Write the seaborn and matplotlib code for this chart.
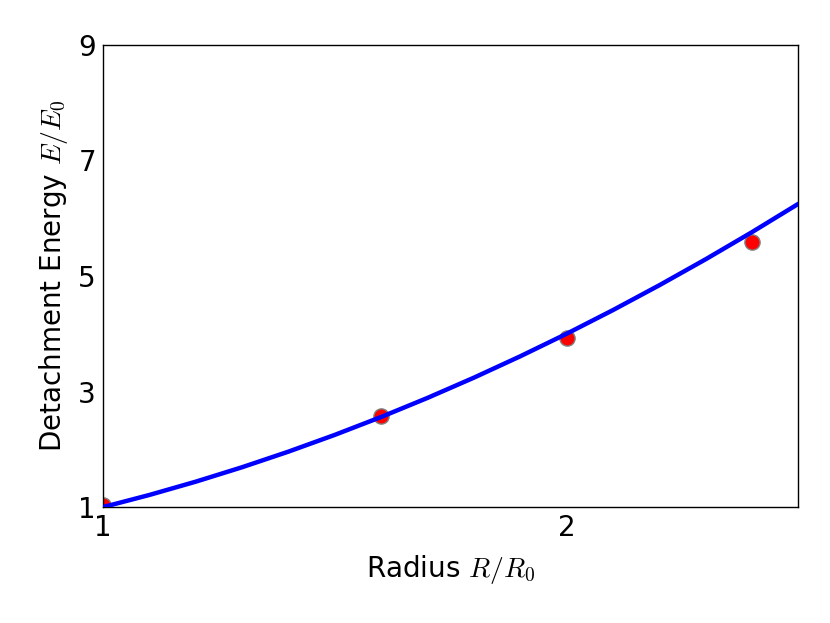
import numpy as np
import pandas as pd
import seaborn as sns
import matplotlib.pyplot as plt

# measured points (radius, energy)
r_pts = [1.0, 1.6, 2.0, 2.4]
e_pts = [1.03, 2.58, 3.92, 5.59]

# fitted curve
r_fit = [1.0, 1.1, 1.2, 1.3, 1.4, 1.5, 1.6, 1.7, 1.8, 1.9, 2.0,
         2.1, 2.2, 2.3, 2.4, 2.5]
e_fit = [1.0, 1.21, 1.44, 1.69, 1.96, 2.25, 2.56, 2.89, 3.24, 3.61, 4.0,
         4.41, 4.84, 5.29, 5.76, 6.25]

y_ticks = [1, 3, 5, 7, 9]
x_ticks = [1, 2]

df_pts = pd.DataFrame({'R': r_pts, 'E': e_pts})
df_fit = pd.DataFrame({'R': r_fit, 'E': e_fit})

sns.set_style("white")
plt.rcParams['font.family'] = ['DejaVu Sans']
plt.rcParams['mathtext.fontset'] = 'cm'
plt.rcParams['text.color'] = 'black'
plt.rcParams['axes.labelcolor'] = 'black'
plt.rcParams['xtick.labelcolor'] = 'black'
plt.rcParams['ytick.labelcolor'] = 'black'

fig, ax = plt.subplots(figsize=(8.3, 6.23), dpi=100)
fig.subplots_adjust(left=0.124, right=0.962, top=0.928, bottom=0.186)

sns.scatterplot(data=df_pts, x='R', y='E', ax=ax, color='red', s=120,
                edgecolor='grey', linewidth=1, zorder=2)
sns.lineplot(data=df_fit, x='R', y='E', ax=ax, color='blue', linewidth=3.2,
             zorder=3)

ax.set_xlim(1, 2.5)
ax.set_ylim(1, 9)
ax.set_xticks(x_ticks)
ax.set_yticks(y_ticks)
ax.tick_params(direction='in', length=6, width=1, color='grey',
               labelsize=20, labelcolor='black', pad=5)
for s in ax.spines.values():
    s.set_color('black')
    s.set_linewidth(1)
ax.set_xlabel('Radius $R/R_0$', fontsize=20, labelpad=8)
ax.set_ylabel('Detachment Energy $E/E_0$', fontsize=20, labelpad=6)

fig.savefig('out.png', dpi=100)
